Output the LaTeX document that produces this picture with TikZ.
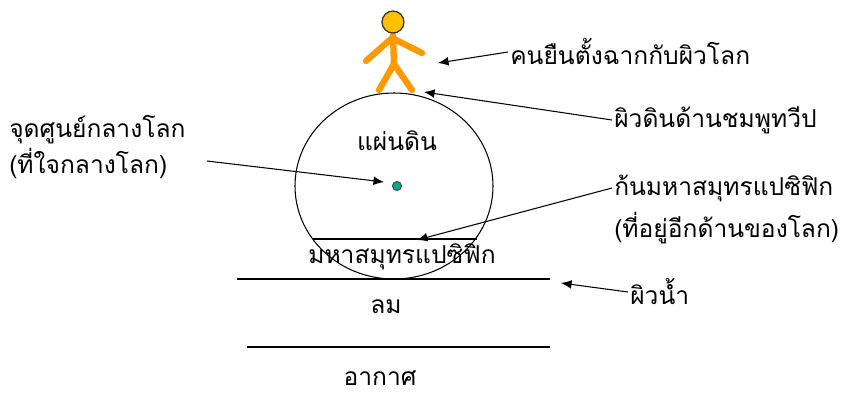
\documentclass[tikz,border=0pt]{standalone}
\usepackage{fontspec}
\newfontfamily\thaifont[Script=Thai]{Loma}
\usetikzlibrary{arrows.meta}

\definecolor{skin}{RGB}{255,192,0}
\definecolor{body}{RGB}{255,153,0}
\definecolor{core}{RGB}{0,176,128}

\tikzset{
  lbl/.style={font=\thaifont\fontsize{14}{17}\selectfont, inner sep=1pt},
  ptr/.style={-{Latex[length=6pt,width=5pt]}, line width=0.6pt},
}

\begin{document}
\begin{tikzpicture}[x=0.02cm,y=-0.02cm, line width=0.6pt]
    \useasboundingbox (0,0) rectangle (850,397);

    % earth, seabed chord, water and air levels
    \draw (394,186) ellipse [x radius=99, y radius=93];
    \draw (313,239) -- (477,239);
    \draw (237,279) -- (550,279);
    \draw (247,347) -- (550,347);
    \node[circle, draw=black!70, fill=core, minimum size=0.18cm, inner sep=0pt] (ctr) at (397,186) {};

    % the person standing on top
    \begin{scope}[body, line width=3.6pt, line cap=round]
    \draw (393,35) -- (394,66);
    \draw (366,61) -- (392,38) -- (422,53);
    \draw (379,90) -- (394,64) -- (412,90);
    \end{scope}
    \node[circle, draw=black!80, fill=skin, minimum size=0.44cm, inner sep=0pt, line width=0.7pt] (head) at (393,22) {};

    \begin{scope}[every node/.style={lbl}]
    \node (land) at (397,141) {แผ่นดิน};
    \node (ocean) at (402,257) {มหาสมุทรแปซิฟิก};
    \node (wind) at (386,307) {ลม};
    \node (air) at (380,378) {อากาศ};

    \node[anchor=west] (core1) at (7,130) {จุดศูนย์กลางโลก};
    \node[anchor=west] (core2) at (7,163) {(ที่ใจกลางโลก)};
    \node[anchor=west] (man) at (508,52) {คนยืนตั้งฉากกับผิวโลก};
    \node[anchor=west] (ground) at (612,120) {ผิวดินด้านชมพูทวีป};
    \node[anchor=west] (bed) at (612,188) {ก้นมหาสมุทรแปซิฟิก};
    \node[anchor=west] (bed2) at (612,228) {(ที่อยู่อีกด้านของโลก)};
    \node[anchor=west] (water) at (628,292) {ผิวน้ำ};
    \end{scope}

    \coordinate (feet) at (438,63);
    \coordinate (top) at (424,92);
    \coordinate (c0) at (207,161);
    \coordinate (c1) at (384,182);
    \coordinate (floor) at (417,240);
    \coordinate (sea) at (561,283);

    \draw[ptr] (man.west) -- (feet);
    \draw[ptr] (ground.west) -- (top);
    \draw[ptr] (c0) -- (c1);
    \draw[ptr] (bed.west) -- (floor);
    \draw[ptr] (water.west) -- (sea);
\end{tikzpicture}
\end{document}
